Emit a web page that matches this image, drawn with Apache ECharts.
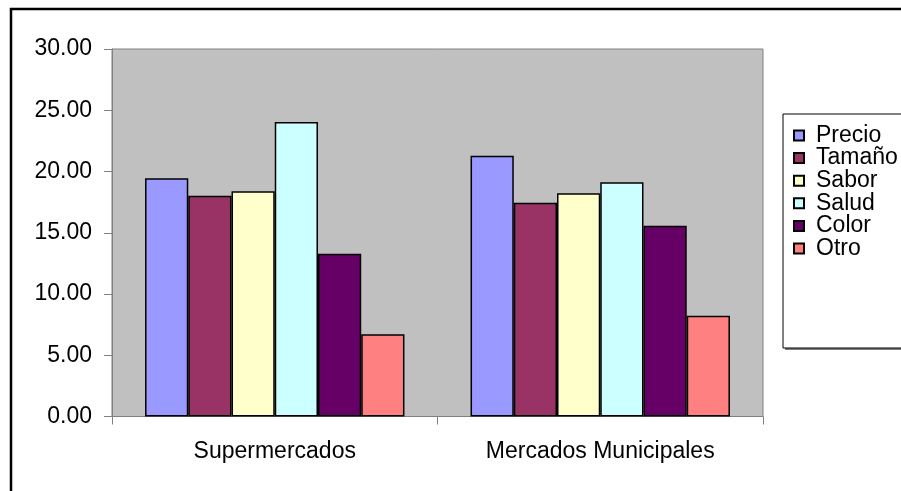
<!DOCTYPE html>
<html>
<head>
<meta charset="utf-8">
<script src="https://cdn.jsdelivr.net/npm/echarts@6/dist/echarts.min.js"></script>
<style>
  html, body { margin: 0; padding: 0; background: #ffffff; }
  #chart { width: 901px; height: 491px; }
</style>
</head>
<body>
<div id="chart"></div>
<script>
// Market types on the x axis
const categories = ['Supermercados', 'Mercados Municipales'];

// Reasons for choosing, one series each
const seriesNames = ['Precio', 'Tamaño', 'Sabor', 'Salud', 'Color', 'Otro'];
const precio = [19.44, 21.29];
const tamano = [18.02, 17.45];
const sabor  = [18.38, 18.22];
const salud  = [24.04, 19.12];
const color  = [13.29, 15.58];
const otro   = [6.71, 8.23];
const seriesValues = [precio, tamano, sabor, salud, color, otro];

const seriesColors = ['#9999FF', '#993366', '#FFFFCC', '#CCFFFF', '#660066', '#FF8080'];

// Value axis ticks
const yMin = 0, yMax = 30, yStep = 5;

const FONT = '"Liberation Sans", Arial, sans-serif';

const chart = echarts.init(document.getElementById('chart'), null, { renderer: 'canvas' });

chart.setOption({
  backgroundColor: '#ffffff',
  animation: false,
  textStyle: { fontFamily: FONT, color: '#000000' },
  graphic: [
    // outer chart frame
    { type: 'rect', z: 0, shape: { x: 11, y: 9, width: 1000, height: 1000 },
      style: { fill: 'none', stroke: '#000000', lineWidth: 2.5 } },
    // legend box shadow and frame
    { type: 'rect', z: 0, shape: { x: 785, y: 116, width: 200, height: 234 },
      style: { fill: '#808080' } },
    { type: 'rect', z: 1, shape: { x: 783, y: 114, width: 200, height: 234 },
      style: { fill: '#ffffff', stroke: '#000000', lineWidth: 1 } }
  ],
  grid: {
    left: 112, right: 901 - 763, top: 49, bottom: 491 - 416.5,
    show: true, backgroundColor: '#C0C0C0', borderColor: '#808080', borderWidth: 1
  },
  legend: {
    orient: 'vertical',
    left: 793, top: 124,
    padding: 0,
    icon: 'rect',
    itemWidth: 10, itemHeight: 10,
    itemGap: -0.4,
    data: seriesNames,
    textStyle: { fontFamily: FONT, fontSize: 23, color: '#000000', padding: [0, 0, 0, 7] },
    z: 5
  },
  xAxis: {
    type: 'category',
    data: categories,
    axisLine: { show: true, lineStyle: { color: '#808080', width: 1 } },
    axisTick: { show: true, inside: false, length: 8, alignWithLabel: false, lineStyle: { color: '#808080' } },
    axisLabel: { fontFamily: FONT, fontSize: 23, color: '#000000', margin: 24 },
    splitLine: { show: false }
  },
  yAxis: {
    type: 'value',
    min: yMin, max: yMax, interval: yStep,
    axisLine: { show: true, lineStyle: { color: '#808080', width: 1 } },
    axisTick: { show: true, inside: false, length: 8, lineStyle: { color: '#808080' } },
    axisLabel: {
      fontFamily: FONT, fontSize: 23, color: '#000000', margin: 20,
      formatter: v => v.toFixed(2)
    },
    splitLine: { show: false }
  },
  series: seriesNames.map((name, i) => ({
    name: name,
    type: 'bar',
    data: seriesValues[i],
    barGap: '0%',
    barCategoryGap: '20.3%',
    itemStyle: { color: seriesColors[i], borderColor: '#000000', borderWidth: 1.5 }
  }))
});
</script>
</body>
</html>
